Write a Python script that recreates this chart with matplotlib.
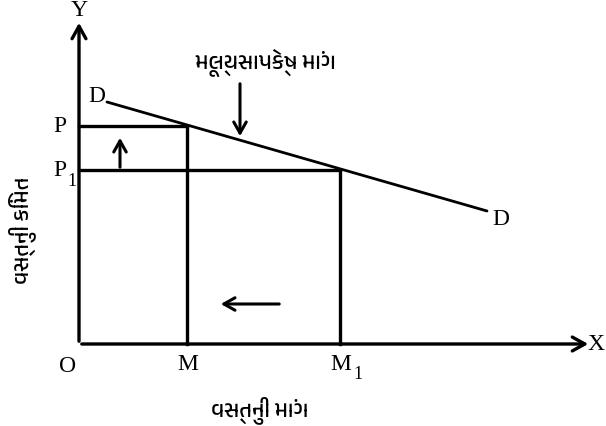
import matplotlib
matplotlib.use('Agg')
import matplotlib.pyplot as plt
from matplotlib import font_manager

# Dati del diagramma (unità = pixel dall'origine O)
price_levels = [218, 174]          # P, P1
price_labels = ['P', 'P']
price_subs = ['', '1']
qty_levels = [108, 261]            # M, M1
qty_labels = ['M', 'M']
qty_subs = ['', '1']
demand_x = [28, 408]
demand_y = [242, 133]

title_text = 'મૂલ્યસાપેક્ષ માંગ'
xlabel_text = 'વસ્તુની માંગ'
ylabel_text = 'વસ્તુની કિંમત'

# cerca un font con supporto per il gujarati
guj = [f.name for f in font_manager.fontManager.ttflist if 'gujarati' in f.name.lower()]
guj_family = [guj[0]] if guj else []
guj_family += ['Noto Sans', 'DejaVu Sans']
serif = 'Liberation Serif'

fig = plt.figure(figsize=(6.06, 4.27), dpi=100)
ax = fig.add_axes([0, 0, 1, 1])
ax.set_xlim(-79, 527)
ax.set_ylim(-82, 345)
ax.axis('off')

lw = 2.4
axis_arr = dict(arrowstyle='->,head_length=0.9,head_width=0.5', lw=lw, color='black')
ax.annotate('', xy=(0, 324), xytext=(0, 0), arrowprops=axis_arr)
ax.annotate('', xy=(512, 0), xytext=(0, 0), arrowprops=axis_arr)
ax.text(0, 334, 'Y', fontsize=17, family=serif, ha='center', va='center')
ax.text(517, 0, 'X', fontsize=17, family=serif, ha='center', va='center')
ax.text(-11, -22, 'O', fontsize=17, family=serif, ha='center', va='center')

# curva di domanda
ax.plot(demand_x, demand_y, color='black', lw=2.0, solid_capstyle='round')
ax.text(demand_x[0] - 10, demand_y[0] + 6, 'D', fontsize=17, family=serif, ha='center', va='center')
ax.text(demand_x[1] + 14, demand_y[1] - 8, 'D', fontsize=17, family=serif, ha='center', va='center')

# linee di prezzo e quantità
for p, q, pl, ps, ql, qs in zip(price_levels, qty_levels, price_labels, price_subs,
                                qty_labels, qty_subs):
    ax.plot([0, q], [p, p], color='black', lw=lw)
    ax.plot([q, q], [p, 0], color='black', lw=lw)
    ax.text(-26, p, pl, fontsize=17, family=serif, ha='left', va='center')
    ax.text(-12, p - 11, ps, fontsize=13, family=serif, ha='left', va='center')
    ax.text(q - 10, -20, ql, fontsize=17, family=serif, ha='left', va='center')
    ax.text(q + 13, -30, qs, fontsize=13, family=serif, ha='left', va='center')

# frecce interne
arr = dict(arrowstyle='->,head_length=0.8,head_width=0.45', lw=2.2, color='black')
ax.annotate('', xy=(41, 209), xytext=(41, price_levels[1]), arrowprops=arr)
ax.annotate('', xy=(161, 205), xytext=(161, 263), arrowprops=arr)
ax.annotate('', xy=(139, 40), xytext=(203, 40), arrowprops=arr)

ax.text(186, 283, title_text, fontsize=16, family=guj_family, ha='center', va='center')
ax.text(181, -65, xlabel_text, fontsize=16, family=guj_family, ha='center', va='center')
ax.text(-57, 115, ylabel_text, fontsize=16, family=guj_family, ha='center', va='center', rotation=90)

fig.savefig('out.png', dpi=100)
